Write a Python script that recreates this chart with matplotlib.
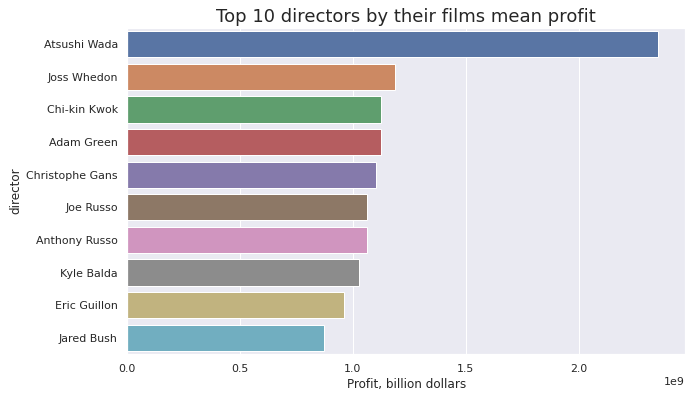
import matplotlib
matplotlib.use("Agg")
import matplotlib.pyplot as plt
import seaborn as sns

directors = ["Atsushi Wada", "Joss Whedon", "Chi-kin Kwok", "Adam Green",
             "Christophe Gans", "Joe Russo", "Anthony Russo", "Kyle Balda",
             "Eric Guillon", "Jared Bush"]
profit = [2.354e9, 1.188e9, 1.124e9, 1.124e9, 1.102e9, 1.062e9, 1.062e9,
          1.027e9, 0.960e9, 0.872e9]

sns.set_theme(style="darkgrid")
fig = plt.figure(figsize=(698 / 72, 397 / 72), dpi=72)
ax = fig.add_axes([0.1824, 0.1083, 0.7990, 0.8212])
pal = sns.color_palette("deep", len(directors))
sns.barplot(x=profit, y=directors, hue=directors, palette=pal, legend=False,
            saturation=0.75, edgecolor="white", linewidth=1, ax=ax, orient="h")
ax.set_title("Top 10 directors by their films mean profit", fontsize=18)
ax.set_xlabel("Profit, billion dollars", fontsize=12)
ax.set_ylabel("director", fontsize=12)
ax.tick_params(labelsize=11)
ax.set_xlim(0, 2.4717e9)
fig.savefig("out.png", dpi=72)
